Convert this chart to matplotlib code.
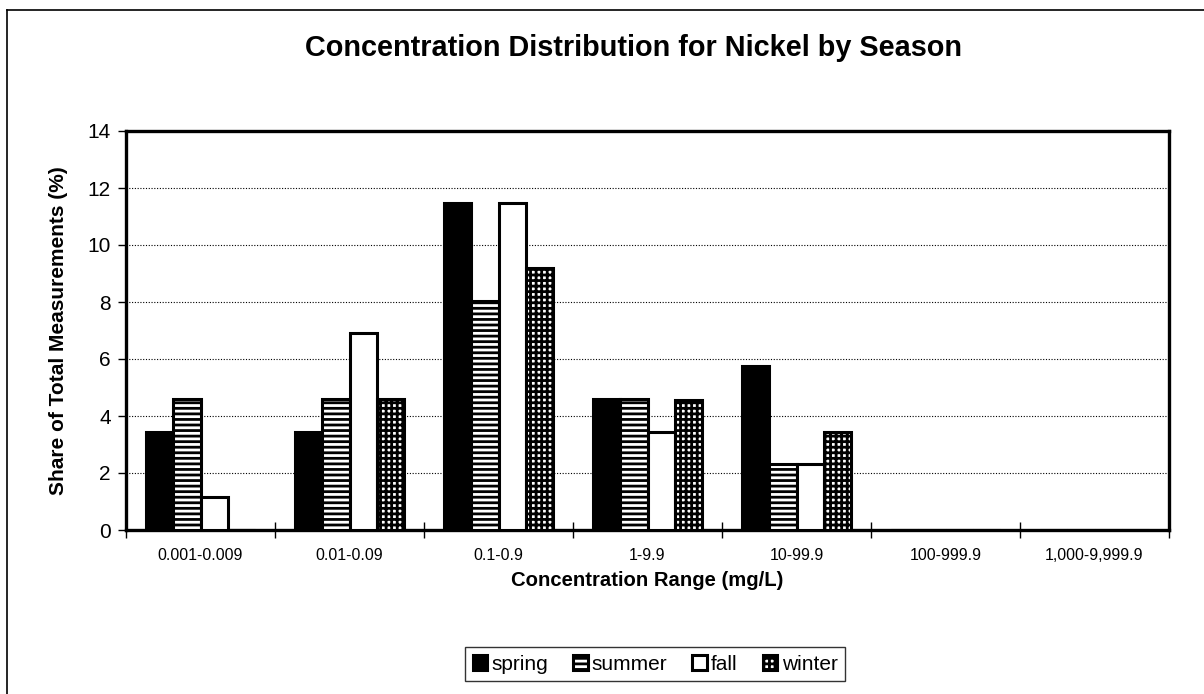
import matplotlib
matplotlib.use("Agg")
import matplotlib.pyplot as plt
import numpy as np
from matplotlib.lines import Line2D

plt.rcParams['font.family'] = ['Liberation Sans', 'DejaVu Sans']
plt.rcParams['hatch.linewidth'] = 2.0

categories = ["0.001-0.009", "0.01-0.09", "0.1-0.9", "1-9.9", "10-99.9", "100-999.9", "1,000-9,999.9"]
spring = [3.45, 3.45, 11.49, 4.60, 5.75, 0, 0]
summer = [4.60, 4.60, 8.05, 4.60, 2.30, 0, 0]
fall = [1.15, 6.90, 11.49, 3.45, 2.30, 0, 0]
winter = [0, 4.60, 9.20, 4.55, 3.45, 0, 0]
series_names = ["spring", "summer", "fall", "winter"]
yticks = [0, 2, 4, 6, 8, 10, 12, 14]

W, H = 1204, 694
fig = plt.figure(figsize=(W / 100, H / 100), dpi=100)
L, R, T, B = 126, 1169, 131, 530
ax = fig.add_axes([L / W, 1 - B / H, (R - L) / W, (B - T) / H])

x = np.arange(len(categories))
w = 1 / 5.5
styles = [
    dict(facecolor="black", hatch=None),
    dict(facecolor="white", hatch="---"),
    dict(facecolor="white", hatch=None),
    dict(facecolor="white", hatch="+++"),
]
data = [spring, summer, fall, winter]
for i, (vals, st) in enumerate(zip(data, styles)):
    ax.bar(x + (i - 1.5) * w, vals, width=w, facecolor=st["facecolor"],
           edgecolor="black", linewidth=2.2, hatch=st["hatch"], label=series_names[i], zorder=3)

ax.set_xlim(-0.5, len(categories) - 0.5)
ax.set_ylim(0, 14)
ax.set_yticks(yticks)
ax.set_yticklabels([str(v) for v in yticks], fontsize=15)
ax.yaxis.grid(True, linestyle=(0, (1, 1.5)), color="black", linewidth=0.8, zorder=0)
ax.tick_params(axis="y", direction="out", length=6, width=1, pad=5)
ax.set_xticks(x)
ax.set_xticklabels(categories, fontsize=11.5)
ax.tick_params(axis="x", length=0, pad=13)
ax.set_xticks(np.arange(-0.5, len(categories), 1), minor=True)
ax.tick_params(axis="x", which="minor", direction="inout", length=12, width=1)
for s in ax.spines.values():
    s.set_linewidth(2.4)
ax.set_ylabel("Share of Total Measurements (%)", fontsize=15, fontweight="bold", labelpad=14)
ax.set_xlabel("Concentration Range (mg/L)", fontsize=14.6, fontweight="bold", labelpad=6)
fig.text(634 / W, 1 - 48 / H, "Concentration Distribution for Nickel by Season",
         ha="center", va="center", fontsize=20.8, fontweight="bold")

leg = ax.legend(loc="center", bbox_to_anchor=(655 / W, 1 - 664 / H), bbox_transform=fig.transFigure,
                ncol=4, frameon=True, fancybox=False, edgecolor="black", fontsize=15,
                handlelength=0.7, handleheight=0.7, handletextpad=0.2, columnspacing=1.2, borderpad=0.35)
leg.get_frame().set_linewidth(1.0)

# outer chart frame (left and top edges visible)
fig.add_artist(Line2D([7 / W, 7 / W], [0, 1 - 10 / H], color="black", linewidth=1.2, transform=fig.transFigure))
fig.add_artist(Line2D([7 / W, 1], [1 - 10 / H, 1 - 10 / H], color="black", linewidth=1.2, transform=fig.transFigure))

fig.savefig("out.png", dpi=100)
